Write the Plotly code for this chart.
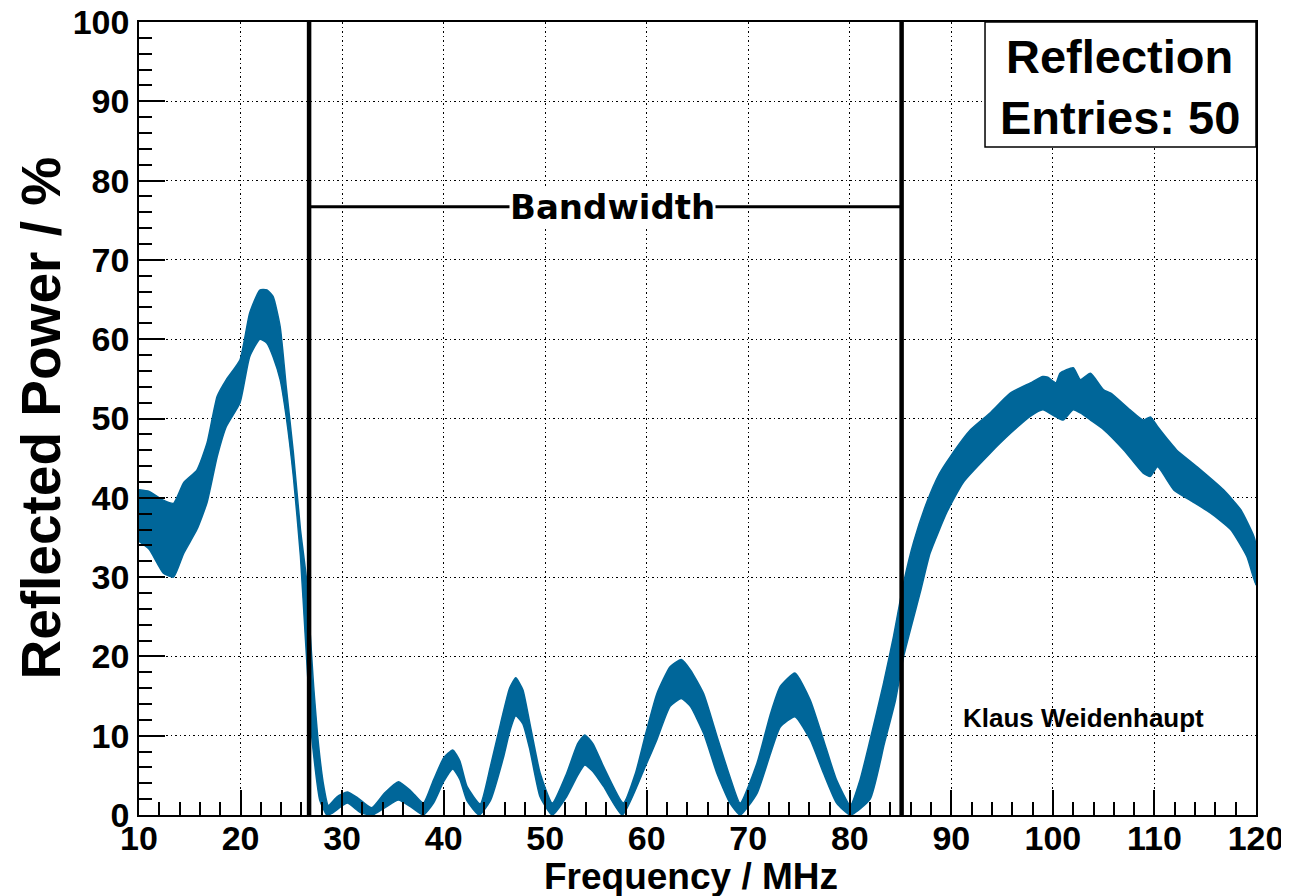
import plotly.graph_objects as go

# ---- data (envelope of the 50 reflection curves) ----
top_freq = [10.0, 11.0, 12.4, 13.4, 14.4, 15.7, 16.7, 17.7, 18.6, 19.95, 20.9, 21.9, 22.6, 23.2, 23.9,
            24.5, 25.2, 25.9, 26.5, 27.2, 27.7, 28.2, 28.65, 29.5, 30.5, 31.5, 32.9, 34.2, 35.55,
            36.8, 38.0, 39.0, 40.0, 40.9, 41.6, 42.3, 43.6, 44.6, 45.6, 46.5, 47.1, 47.8, 48.5,
            49.5, 50.7, 52.1, 53.2, 53.9, 54.7, 55.75, 57.7, 58.9, 59.85, 61.0, 62.3, 63.4, 64.3,
            65.6, 66.9, 68.2, 69.2, 70.85, 72.2, 73.15, 74.6, 76.1, 77.4, 78.7, 80.05, 81.0, 82.0,
            83.3, 84.3, 85.3, 86.3, 87.6, 88.8, 89.9, 91.9, 93.8, 95.8, 97.8, 99.0, 99.5, 100.3,
            100.7, 102.0, 102.7, 103.7, 105.0, 105.7, 107.6, 108.9, 109.6, 110.3, 111.6, 112.2,
            114.2, 116.8, 118.5, 119.8, 120.0]
top_power = [41.0, 40.8, 39.7, 39.3, 41.9, 43.5, 46.9, 52.8, 54.9, 57.4, 63.3, 66.2, 66.2, 65.4, 61.6,
             54.0, 45.7, 36.0, 29.7, 16.2, 8.6, 3.6, 1.2, 2.3, 2.9, 2.2, 0.9, 2.8, 4.2,
             3.0, 1.5, 4.4, 7.2, 8.2, 6.8, 3.6, 1.4, 6.1, 11.5, 16.0, 17.3, 15.8, 11.5,
             5.3, 1.5, 5.2, 9.0, 10.1, 9.0, 6.1, 1.5, 5.3, 10.0, 15.3, 18.7, 19.6, 18.3,
             15.3, 10.0, 4.8, 1.5, 6.5, 12.8, 16.2, 17.9, 14.5, 9.5, 4.4, 1.2, 4.4, 9.5,
             16.5, 22.5, 29.3, 34.5, 39.5, 43.0, 45.2, 48.6, 50.7, 53.2, 54.5, 55.3, 55.2, 54.5,
             55.7, 56.4, 54.9, 55.7, 53.6, 53.2, 51.1, 49.8, 50.2, 49.0, 46.9, 46.0,
             43.9, 41.0, 38.5, 35.1, 34.0]

bottom_freq = [10.0, 11.0, 12.4, 13.4, 14.4, 15.7, 16.7, 17.7, 18.6, 19.95, 20.9, 21.9, 22.6, 23.2,
               23.9, 24.5, 25.2, 25.9, 26.4, 27.0, 27.8, 28.5, 29.0, 30.5, 31.8, 33.0, 34.3, 35.55,
               36.8, 38.0, 39.0, 40.0, 40.9, 41.6, 42.3, 43.5, 44.6, 45.9, 46.5, 47.1, 47.8, 48.5,
               49.5, 50.7, 52.1, 53.2, 53.9, 54.7, 55.75, 57.6, 59.85, 61.0, 62.3, 63.4, 64.3, 65.6,
               66.9, 68.2, 69.2, 70.85, 72.2, 73.15, 74.6, 76.1, 77.4, 78.7, 80.05, 82.0, 83.4,
               84.5, 85.3, 87.0, 87.9, 89.6, 91.2, 93.8, 95.8, 97.8, 99.0, 100.3, 101.0, 102.0,
               102.7, 103.7, 105.0, 107.0, 108.9, 109.6, 110.3, 111.9, 113.5, 115.5, 117.5, 119.1,
               120.0]
bottom_power = [34.5, 33.5, 30.5, 30.0, 33.0, 36.0, 39.4, 45.2, 49.0, 52.0, 57.8, 60.0, 59.5, 57.8,
                54.9, 50.2, 42.7, 32.6, 22.0, 10.0, 1.9, 0.0, 0.2, 1.5, 0.3, 0.0, 1.0, 1.9,
                1.0, 0.0, 1.5, 4.2, 5.8, 4.5, 1.8, 0.0, 1.8, 7.3, 10.5, 12.5, 11.5, 8.2,
                2.3, 0.0, 2.3, 5.0, 6.3, 5.5, 3.6, 0.0, 6.1, 9.5, 13.7, 14.7, 13.7, 10.3,
                5.3, 1.5, 0.0, 2.7, 7.8, 11.1, 12.4, 9.5, 5.3, 1.5, 0.0, 2.0, 9.0,
                14.5, 20.0, 28.4, 33.0, 38.3, 42.0, 45.6, 48.1, 50.3, 51.1, 50.2, 49.8, 51.1,
                50.7, 49.8, 48.6, 46.0, 43.1, 42.7, 43.9, 41.0, 39.7, 38.1, 36.0, 32.6,
                29.0]

band_low = 26.75      # MHz, left bandwidth marker
band_high = 85.1      # MHz, right bandwidth marker
band_level = 76.7     # % level of the "Bandwidth" bar
entries = 50

x_ticks = [10, 20, 30, 40, 50, 60, 70, 80, 90, 100, 110, 120]
y_ticks = [0, 10, 20, 30, 40, 50, 60, 70, 80, 90, 100]

blue = "#006699"
font_main = "Liberation Sans, Arial, sans-serif"

fig = go.Figure()
fig.add_trace(go.Scatter(
    x=top_freq + bottom_freq[::-1],
    y=top_power + bottom_power[::-1],
    mode="lines", fill="toself", fillcolor=blue, line_shape="spline", line_smoothing=0.5,
    line=dict(color=blue, width=1.5), hoverinfo="skip", showlegend=False))

axis_common = dict(
    showline=True, linecolor="black", linewidth=1.5, mirror=True, automargin=False,
    showgrid=True, gridcolor="black", gridwidth=1, griddash="1.5px,3px",
    zeroline=False, ticks="inside", tickcolor="black", tickwidth=1.5,
    ticklabeloverflow="allow",
    tickfont=dict(family=font_main, size=34, color="black", weight="bold"),
)

# the page adds an 8 px body margin, so the figure is 8 px smaller than the window
fig.update_layout(
    width=1281, height=888,
    margin=dict(l=131, r=33, t=14, b=81, autoexpand=False),
    paper_bgcolor="white", plot_bgcolor="white",
    xaxis=dict(range=[10, 120], tickvals=x_ticks, ticklen=25,
               minor=dict(ticks="inside", dtick=2, ticklen=13, tickcolor="black", tickwidth=1.5, showgrid=False),
               ticklabelstandoff=-8, **axis_common),
    yaxis=dict(range=[0, 100], tickvals=y_ticks, ticklen=26,
               minor=dict(ticks="inside", dtick=2, ticklen=13, tickcolor="black", tickwidth=1.5, showgrid=False),
               ticklabelstandoff=1, **axis_common),
)

# bandwidth markers
for xv in (band_low, band_high):
    fig.add_shape(type="line", xref="x", yref="y", x0=xv, x1=xv, y0=0, y1=100,
                  line=dict(color="black", width=4.5), layer="above")
fig.add_shape(type="line", xref="x", yref="y", x0=band_low, x1=band_high, y0=band_level, y1=band_level,
              line=dict(color="black", width=3), layer="above")
fig.add_annotation(x=(band_low + band_high) / 2 + 0.7, y=band_level, xref="x", yref="y",
                   xanchor="center", yanchor="middle",
                   text="<b>Bandwidth</b>", showarrow=False, bgcolor="white", borderpad=0,
                   font=dict(family="DejaVu Sans", size=34, color="black"))

# stats box
fig.add_shape(type="rect", xref="paper", yref="paper", x0=0.7574, x1=1.0, y0=0.8424, y1=1.0,
              line=dict(color="black", width=1.5), fillcolor="white", layer="above")
fig.add_annotation(x=0.878, y=0.956, xref="paper", yref="paper", text="<b>Reflection</b>",
                   xanchor="center", yanchor="middle",
                   showarrow=False, font=dict(family=font_main, size=47, color="black"))
fig.add_annotation(x=0.878, y=0.879, xref="paper", yref="paper", text=f"<b>Entries: {entries}</b>",
                   xanchor="center", yanchor="middle",
                   showarrow=False, font=dict(family=font_main, size=47, color="black"))

fig.add_annotation(x=0.846, y=0.1223, xref="paper", yref="paper", text="<b>Klaus Weidenhaupt</b>",
                   xanchor="center", yanchor="middle",
                   showarrow=False, font=dict(family=font_main, size=26, color="black"))

# axis titles
fig.add_annotation(x=-0.0886, y=0.5, xref="paper", yref="paper", text="<b>Reflected Power / %</b>",
                   xanchor="center", yanchor="middle",
                   textangle=-90, showarrow=False, font=dict(family=font_main, size=55, color="black"))
fig.add_annotation(x=0.494, y=-0.078, xref="paper", yref="paper", text="<b>Frequency / MHz</b>",
                   xanchor="center", yanchor="middle",
                   showarrow=False, font=dict(family=font_main, size=37, color="black"))

fig.write_html("out.html")
